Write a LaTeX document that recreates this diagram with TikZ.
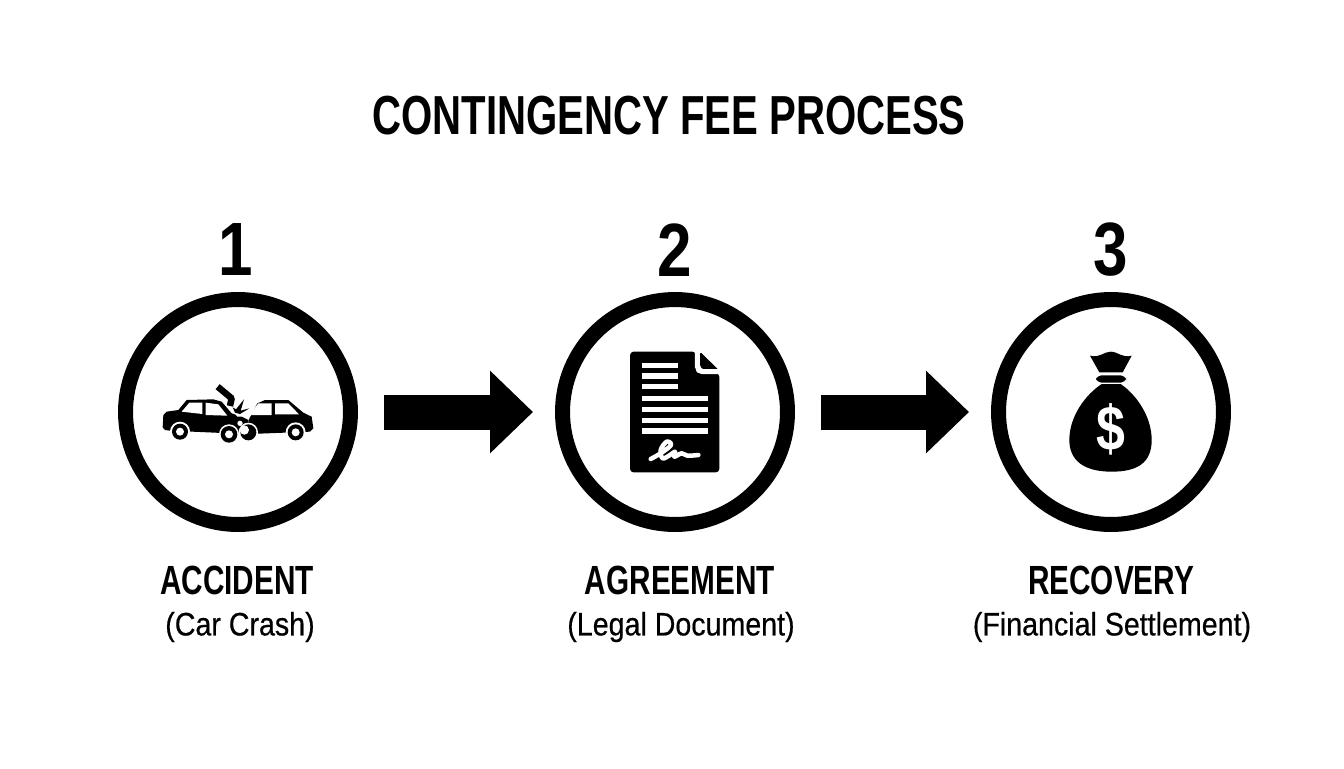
\documentclass[tikz,border=0pt]{standalone}
\usepackage{fontspec}
\setmainfont[FakeStretch=0.82]{Liberation Sans}
\newfontfamily\condfont[FakeStretch=0.73]{Liberation Sans}
\newfontfamily\subfont[FakeStretch=0.88,FakeBold=0.5]{Liberation Sans}
\usetikzlibrary{arrows.meta}

\begin{document}
\begin{tikzpicture}[x=0.02cm,y=-0.02cm,>=Stealth,
	ring/.style={circle,draw,line width=0.3cm,minimum size=4.5cm,inner sep=0},
	bigarrow/.style={line width=0.7cm,-{Triangle[length=0.86cm,width=1.6cm]}},
	titletext/.style={font=\fontsize{31.3}{34}\condfont\bfseries},
	numtext/.style={font=\fontsize{43}{46}\selectfont\bfseries},
	headtext/.style={font=\fontsize{23.2}{26}\condfont\bfseries},
	subtext/.style={font=\fontsize{18.5}{22}\subfont}]
	\useasboundingbox (0,0) rectangle (1344,768);
	% Title
	\node[titletext] (title) at (669,116) {CONTINGENCY FEE PROCESS};
	
	% Step circles
	\node[ring] (accident) at (238,412) {};
	\node[ring] (agreement) at (675,412) {};
	\node[ring] (recovery) at (1111,412) {};
	
	% Step numbers
	\node[numtext] (n1) at (236,250) {1};
	\node[numtext] (n2) at (675,250) {2};
	\node[numtext] (n3) at (1111,250) {3};
	
	% Arrows
	\draw[bigarrow,shorten <=0.52cm,shorten >=0.44cm] (accident) -- (agreement);
	\draw[bigarrow,shorten <=0.52cm,shorten >=0.44cm] (agreement) -- (recovery);
	
	% Labels
	\node[headtext] (h1) at (237,580) {ACCIDENT};
	\node[subtext] (s1) at (240,627) {(Car Crash)};
	\node[headtext] (h2) at (680,580) {AGREEMENT};
	\node[subtext] (s2) at (681,627) {(Legal Document)};
	\node[headtext] (h3) at (1111,580) {RECOVERY};
	\node[subtext] (s3) at (1112,627) {(Financial Settlement)};
	
	% Car crash icon
	\begin{scope}[shift={(150,370)},scale=1/3]
		\fill (38,172)--(40,135)--(50,125)--(85,120)--(110,90)--(190,88)--(215,95)--(245,130)--(275,140)--(295,150)--(300,175)--(285,192)--(60,182)--(45,180)--cycle;
		\fill (296,150)--(322,100)--(345,90)--(415,90)--(460,128)--(485,140)--(490,175)--(480,185)--(300,192)--cycle;
		\fill[white] (95,125)--(118,98)--(157,98)--(157,132)--cycle;
		\fill[white] (167,98)--(205,103)--(232,137)--(167,135)--cycle;
		\fill[white] (298,135)--(325,100)--(365,100)--(365,135)--cycle;
		\fill[white] (375,100)--(415,100)--(447,133)--(375,133)--cycle;
		% spark
		\fill[white] (245,118)--(262,92)--(300,110)--(298,138)--(262,140)--cycle;
		\draw[line width=0.13cm,line join=round] (203,50)--(245,85)--(240,108);
		\fill (248,112)--(258,118)--(282,88)--(272,122)--(298,115)--(270,132)--(255,128)--cycle;
		% wheels
		\fill[white] (90,185) circle (30);
		\fill (90,185) circle (24);
		\fill[white] (90,185) circle (12);
		\fill[white] (437,187) circle (30);
		\fill (437,187) circle (24);
		\fill[white] (437,187) circle (12);
		\fill[white] (295,187) circle (29);
		\fill (295,187) circle (24);
		\fill[white] (283,180) circle (14);
		\fill[white] (237,193) circle (30);
		\fill (237,193) circle (25);
		\fill[white] (237,193) circle (12);
		\fill[white] (270,160) circle (8);
	\end{scope}
	
	% Document icon
	\begin{scope}[shift={(610,340)},scale=1/3]
		\fill[rounded corners=2pt] (60,35)--(258,35)--(258,100)--(328,100)--(328,397)--(60,397)--cycle;
		\fill[rounded corners=1pt] (270,35)--(328,92)--(285,92)--(270,80)--cycle;
		\draw[white,line width=0.1cm,rounded corners=3pt] (262,35)--(262,95)--(328,95);
		\fill[white] (97,69) rectangle (204,84);
		\fill[white] (97,100) rectangle (204,116);
		\fill[white] (97,133) rectangle (204,148);
		\fill[white] (97,168) rectangle (294,184);
		\fill[white] (97,201) rectangle (294,216);
		\fill[white] (97,234) rectangle (294,250);
		\fill[white] (97,265) rectangle (294,282);
		% signature
		\draw[white,line width=0.09cm,line cap=round,line join=round] plot[smooth,tension=0.6] coordinates {(122,357) (155,338) (183,315) (170,305) (152,330) (158,355) (180,345) (195,335) (193,350) (215,340) (232,347) (265,345)};
	\end{scope}
	
	% Money bag icon
	\begin{scope}[shift={(1050,340)},scale=1/3]
		\fill (120,47) .. controls (150,55) and (160,35) .. (182,35) .. controls (205,35) and (215,55) .. (245,47) -- (218,97) -- (148,97) -- cycle;
		\fill[rounded corners=3pt] (138,106) rectangle (228,128);
		\fill (155,132) -- (212,132) .. controls (260,165) and (305,230) .. (305,300) .. controls (305,370) and (260,395) .. (185,395) .. controls (100,395) and (58,360) .. (58,300) .. controls (58,230) and (105,165) .. (155,132) -- cycle;
		\node[white,font=\fontsize{36}{38}\selectfont\bfseries] (dollar) at (183,268) {\$};
	\end{scope}
\end{tikzpicture}
\end{document}
